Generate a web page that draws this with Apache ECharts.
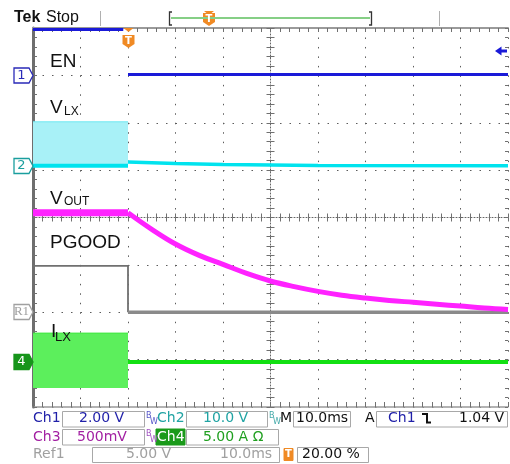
<!DOCTYPE html>
<html><head><meta charset="utf-8">
<script src="https://cdn.jsdelivr.net/npm/echarts@6/dist/echarts.min.js"></script>
<style>html,body{margin:0;padding:0;background:#fff}#c{width:510px;height:464px}</style>
</head><body><div id="c"></div><script>
// Time axis: 10 ms/div, trigger at 0 ms (20 % of record), 10 divisions
const timeMin = -20, timeMax = 80, timeDiv = 10;
// Vertical positions in graticule divisions (centre line = 0, 8 divisions)
const divMin = -4, divMax = 4;
const enBefore   = [[-20, 3.97], [-1, 3.97]];
const enAfter    = [[0, 3.02], [80, 3.02]];
const vlxBandTop = [[-20, 2.02], [0, 2.02]];
const vlxBase    = 1.09;
const vlxBefore  = [[-20, 1.09], [0, 1.09]];
const vlxAfter   = [[0, 1.17], [10, 1.14], [20, 1.12], [40, 1.10], [80, 1.09]];
const voutBefore = [[-20, 0.10], [0, 0.10]];
const voutAfter  = [[0, 0.10], [5, -0.25], [10, -0.56], [15, -0.80], [20, -0.99], [25, -1.18],
                    [30, -1.34], [35, -1.46], [40, -1.56], [45, -1.64], [50, -1.70], [55, -1.75],
                    [60, -1.79], [65, -1.83], [70, -1.87], [75, -1.91], [80, -1.94]];
const pgoodBefore = [[-20, -1.02], [0, -1.02], [0, -2.0]];
const pgoodAfter  = [[0, -2.0], [80, -2.0]];
const ilxBandTop  = [[-20, -2.44], [0, -2.44]];
const ilxBandBottom = -3.60;
const ilxAfter    = [[0, -3.05], [80, -3.05]];

const G = {left: 33, top: 28, width: 475, height: 379};
const grids = [0, 1, 2, 3].map(() => Object.assign({}, G));
const tickC = '#707070', dotC = '#5c5c5c';
function xAx(i, extra) {
  return Object.assign({gridIndex: i, type: 'value', min: timeMin, max: timeMax, interval: timeDiv,
    axisLabel: {show: false}, splitLine: {show: false}, minorSplitLine: {show: false}}, extra);
}
function yAx(i, extra) {
  return Object.assign({gridIndex: i, type: 'value', min: divMin, max: divMax, interval: 1,
    axisLabel: {show: false}, splitLine: {show: false}, minorSplitLine: {show: false}}, extra);
}
function ticks(inside, len) {
  return {axisTick: {inside: inside, length: len, lineStyle: {color: tickC}},
          minorTick: {show: true, splitNumber: 5, length: len, lineStyle: {color: tickC}}};
}
const xAxis = [
  xAx(0, Object.assign({position: 'bottom', axisLine: {onZero: false, lineStyle: {color: '#9a9a9a', width: 1.5}},
    splitLine: {show: true, lineStyle: {type: [1.5, 7.975], color: dotC, width: 1}}}, ticks(true, 5))),
  xAx(1, Object.assign({position: 'top', axisLine: {onZero: false, lineStyle: {color: '#9a9a9a', width: 2}}}, ticks(true, 4))),
  xAx(2, Object.assign({min: -5, max: 5, interval: 1,
    axisLine: {onZero: true, lineStyle: {color: '#666', type: [1, 2]}}}, ticks(true, 4))),
  xAx(3, Object.assign({min: -5, max: 5, interval: 1, axisLine: {show: false, onZero: true}}, ticks(false, 4)))
];
const yAxis = [
  yAx(0, Object.assign({position: 'left', axisLine: {onZero: false, lineStyle: {color: '#6e6e6e', width: 3}},
    splitLine: {show: true, lineStyle: {type: [1.5, 8], color: dotC, width: 1}}}, ticks(true, 4))),
  yAx(1, Object.assign({position: 'right', axisLine: {show: false, onZero: false}}, ticks(true, 3))),
  yAx(2, Object.assign({axisLine: {onZero: true, lineStyle: {color: '#666', type: [1, 2]}}}, ticks(true, 4))),
  yAx(3, Object.assign({axisLine: {show: false, onZero: true}}, ticks(false, 4)))
];

function ln(data, color, width, extra) {
  return Object.assign({type: 'line', data: data, showSymbol: false, symbol: 'none', silent: true,
    clip: true, lineStyle: {color: color, width: width}, z: 3}, extra || {});
}
const series = [
  ln(vlxBandTop, '#70e8f1', 1, {areaStyle: {origin: vlxBase, color: '#a8f1f7', opacity: 1}}),
  ln(vlxBefore, '#00e3ee', 4),
  ln(vlxAfter, '#00e3ee', 3.5),
  ln(ilxBandTop, '#3fe83f', 1, {areaStyle: {origin: ilxBandBottom, color: '#5cef5c', opacity: 1}}),
  ln(ilxAfter, '#12e012', 4),
  ln(pgoodBefore, '#707070', 1.8),
  ln(pgoodAfter, '#8a8a8a', 3.5),
  ln(voutBefore, '#ff22ff', 7),
  ln(voutAfter, '#ff22ff', 5, {smooth: 0.4}),
  ln(enBefore, '#1a1ad8', 3),
  ln(enAfter, '#1a1ad8', 3)
];

// ---- decorations (text and markers) ----
const g = [];
function T(x, y, s, st) {
  g.push({type: 'text', x: x, y: y, z: 100, style: Object.assign({text: s, fontFamily: 'DejaVu Sans',
    fontSize: 14, fill: '#111', verticalAlign: 'middle', align: 'left'}, st || {})});
}
function R(x, y, w, h, st) {
  g.push({type: 'rect', z: 99, shape: {x: x, y: y, width: w, height: h},
    style: Object.assign({fill: '#fff', stroke: '#a8a8a8', lineWidth: 1}, st || {})});
}
function P(pts, st) { g.push({type: 'polygon', z: 100, shape: {points: pts}, style: st}); }
function L(pts, st) { g.push({type: 'polyline', z: 100, shape: {points: pts}, style: Object.assign({fill: null}, st)}); }

const LF = 'Liberation Sans';
T(50, 61.5, 'EN', {fontFamily: LF, fontSize: 19});
T(50, 107.5, 'V', {fontFamily: LF, fontSize: 19});
T(64, 111.5, 'LX', {fontFamily: LF, fontSize: 12});
T(50, 199.2, 'V', {fontFamily: LF, fontSize: 19});
T(64, 201.5, 'OUT', {fontFamily: LF, fontSize: 12});
T(50, 242.5, 'PGOOD', {fontFamily: LF, fontSize: 19});
T(51, 331.5, 'I', {fontFamily: LF, fontSize: 19});
T(55, 337, 'LX', {fontFamily: LF, fontSize: 13});

function marker(cy, stroke, fill, label, tcol, font) {
  P([[14, cy - 7.5], [29, cy - 7.5], [33, cy], [29, cy + 7.5], [14, cy + 7.5]],
    {fill: fill, stroke: stroke, lineWidth: 1.3});
  g.push({type: 'text', x: 21.5, y: cy, z: 101, style: {text: label, fontFamily: font || 'DejaVu Sans',
    fontSize: 13, fill: tcol, align: 'center', verticalAlign: 'middle'}});
}
marker(75.5, '#2a2ab8', '#fff', '1', '#2a2ab8');
marker(166, '#1a9e9e', '#fff', '2', '#1a9e9e');
marker(312, '#a0a0a0', '#fff', 'R1', '#a0a0a0', 'Liberation Serif');
marker(362, '#17951b', '#17951b', '4', '#fff');

const OR = '#f08a24';
function trig(cx, ty, sy) {
  P([[cx - 5, ty], [cx + 5, ty], [cx, ty + 4]], {fill: OR});
  P([[cx - 6, sy], [cx + 6, sy], [cx + 6, sy + 9], [cx, sy + 13], [cx - 6, sy + 9]], {fill: OR});
  g.push({type: 'text', x: cx, y: sy + 6, z: 101, style: {text: 'T', fontFamily: 'DejaVu Sans',
    fontWeight: 'bold', fontSize: 10, fill: '#fff', align: 'center', verticalAlign: 'middle'}});
}
trig(128.5, 28, 35);
trig(209, 11, 13);
P([[495, 51], [501.5, 46.5], [501.5, 55.5]], {fill: '#1a1ad8'});
L([[500, 51], [507, 51]], {stroke: '#1a1ad8', lineWidth: 3});

T(14, 17.5, 'Tek', {fontFamily: LF, fontWeight: 'bold', fontSize: 16});
T(46, 17.5, 'Stop', {fontFamily: LF, fontSize: 16});
L([[100.5, 11], [100.5, 26]], {stroke: '#b0b0b0', lineWidth: 1});
L([[439.5, 11], [439.5, 26]], {stroke: '#b0b0b0', lineWidth: 1});
L([[171, 18], [370, 18]], {stroke: '#86cf86', lineWidth: 2});
L([[172, 12], [169.5, 12], [169.5, 25], [172, 25]], {stroke: '#333', lineWidth: 1.3});
L([[369, 12], [371.5, 12], [371.5, 25], [369, 25]], {stroke: '#333', lineWidth: 1.3});

const BL = '#1f1fa8', TE = '#20a3a3', MA = '#a21fa2', GR = '#1f9f1f', GY = '#a0a0a0';
function bw(x, y, c) {
  T(x, y - 3, 'B', {fontSize: 8, fill: c});
  T(x + 4, y + 3, 'W', {fontSize: 8, fill: c});
}
const r1 = 418.5, r2 = 437, r3 = 454.5;
T(33, r1, 'Ch1', {fill: BL});
R(62.5, 411.5, 82, 15.5); T(79, r1, '2.00 V', {fill: BL});
bw(146, r1, '#5555c8');
T(157, r1, 'Ch2', {fill: TE});
R(186.5, 411.5, 81, 15.5); T(203, r1, '10.0 V', {fill: TE});
bw(269, r1, '#44aaaa');
T(280, r1, 'M');
R(293.5, 411.5, 57, 15.5); T(296, r1, '10.0ms');
T(365, r1, 'A');
R(376.5, 411.5, 131, 15.5); T(388, r1, 'Ch1', {fill: BL});
L([[422, 414], [427, 414], [427, 422.5], [431, 422.5]], {stroke: '#111', lineWidth: 2});
T(459, r1, '1.04 V');

T(33, r2, 'Ch3', {fill: MA});
R(62.5, 429.5, 82, 15.5); T(77, r2, '500mV', {fill: MA});
bw(146, r2, '#a050c0');
R(156, 429, 29, 16, {fill: '#1a9a1a', stroke: '#1a9a1a'});
T(157, r2, 'Ch4', {fill: '#fff'});
R(186.5, 429.5, 92, 15.5); T(203, r2, '5.00 A \u03A9', {fill: GR});

T(33, r3, 'Ref1', {fill: GY});
R(92.5, 447.5, 187, 15); T(126, r3, '5.00 V', {fill: GY}); T(220, r3, '10.0ms', {fill: GY});
R(284, 448.5, 9, 12, {fill: OR, stroke: OR});
g.push({type: 'text', x: 288.5, y: 454.5, z: 101, style: {text: 'T', fontFamily: 'DejaVu Sans',
  fontWeight: 'bold', fontSize: 10, fill: '#fff', align: 'center', verticalAlign: 'middle'}});
R(297.5, 447.5, 71, 15); T(302, r3, '20.00 %');

const chart = echarts.init(document.getElementById('c'), null, {renderer: 'canvas'});
chart.setOption({animation: false, backgroundColor: '#fff', grid: grids, xAxis: xAxis, yAxis: yAxis,
  series: series, graphic: g});
</script></body></html>
